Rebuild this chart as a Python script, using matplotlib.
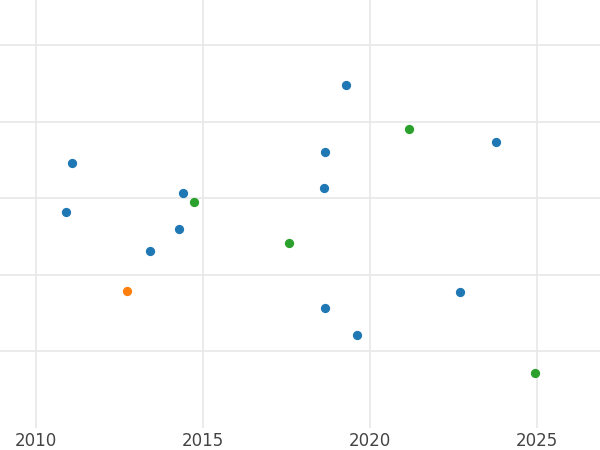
import matplotlib
matplotlib.use("Agg")
import matplotlib.pyplot as plt

blue_x = [2019.28, 2023.77, 2018.65, 2011.08, 2018.62, 2014.40, 2010.90, 2014.28, 2013.41, 2022.69, 2018.65, 2019.61]
blue_y = [4.48, 3.74, 3.61, 3.46, 3.14, 3.07, 2.82, 2.60, 2.31, 1.78, 1.57, 1.22]
green_x = [2021.17, 2014.73, 2017.57, 2024.94]
green_y = [3.91, 2.95, 2.42, 0.72]
orange_x = [2012.72]
orange_y = [1.79]

fig = plt.figure(figsize=(6, 4.5), dpi=100)
ax = fig.add_axes([0, 0.049, 1, 0.951])
ax.scatter(blue_x, blue_y, s=32, color="#1f77b4", zorder=3)
ax.scatter(green_x, green_y, s=32, color="#2ca02c", zorder=3)
ax.scatter(orange_x, orange_y, s=32, color="#ff7f0e", zorder=3)

ax.set_xlim(2008.92, 2026.89)
ax.set_ylim(0, 5.59)
ax.set_xticks([2010, 2015, 2020, 2025])
ax.set_yticks([1, 2, 3, 4, 5])
ax.set_yticklabels([])
ax.grid(True, color="#e8e8e8", lw=1.2, zorder=0)
ax.tick_params(length=0, labelsize=12, labelcolor="#444444", pad=3)
for sp in ax.spines.values():
    sp.set_visible(False)

fig.savefig("out.png", dpi=100)
